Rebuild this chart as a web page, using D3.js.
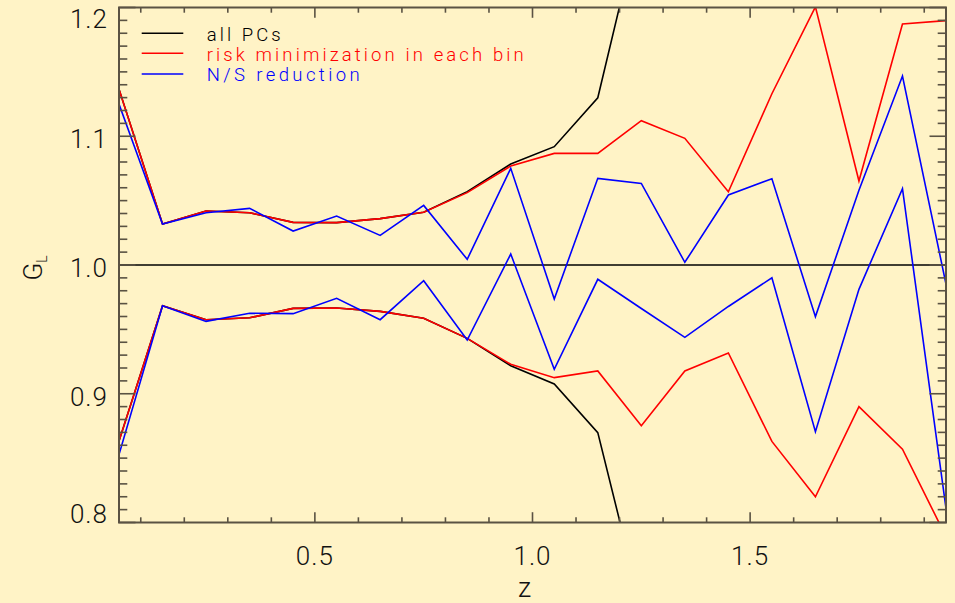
<!DOCTYPE html>
<html>
<head>
<meta charset="utf-8">
<script src="https://cdn.jsdelivr.net/npm/d3@7"></script>
<style>
  html, body { margin: 0; padding: 0; background: #fff3c6; }
  svg { display: block; }
  text { font-family: Roboto, "Liberation Sans", sans-serif; font-weight: 300; }
</style>
</head>
<body>
<svg id="chart" width="955" height="603"></svg>
<script>
// ---- data ----
const z = [0.05, 0.15, 0.25, 0.35, 0.45, 0.55, 0.65, 0.75, 0.85, 0.95,
           1.05, 1.15, 1.25, 1.35, 1.45, 1.55, 1.65, 1.75, 1.85, 1.95];

const allPCsUpper = [1.1365, 1.0318, 1.0419, 1.0406, 1.0331, 1.0329, 1.036, 1.041, 1.057, 1.0784,
                     1.0919, 1.1299, 1.2715];
const allPCsLower = [0.8633, 0.9684, 0.9575, 0.959, 0.9663, 0.9666, 0.964, 0.9586, 0.943, 0.9218,
                     0.9076, 0.8698, 0.7334];

const riskUpper = [1.1365, 1.0318, 1.0419, 1.0406, 1.0331, 1.0329, 1.036, 1.041, 1.0562, 1.0769,
                   1.0867, 1.0867, 1.1121, 1.0984, 1.0569, 1.133, 1.2005, 1.0652, 1.1872, 1.1898];
const riskLower = [0.8633, 0.9684, 0.9575, 0.959, 0.9663, 0.9666, 0.964, 0.9586, 0.943, 0.9229,
                   0.9125, 0.9177, 0.8752, 0.9177, 0.9317, 0.863, 0.82, 0.89, 0.8569, 0.789];

const nsUpper = [1.125, 1.0318, 1.0406, 1.044, 1.0264, 1.038, 1.023, 1.0463, 1.0044, 1.0751,
                 0.9736, 1.0673, 1.0634, 1.0021, 1.0544, 1.067, 0.9599, 1.058, 1.1468, 0.9852];
const nsLower = [0.8527, 0.9684, 0.9562, 0.9625, 0.9622, 0.9741, 0.9575, 0.9878, 0.9417, 1.0085,
                 0.919, 0.9889, 0.9662, 0.9438, 0.9678, 0.99, 0.8705, 0.9811, 1.0593, 0.811];

const legendLabels = ["all PCs", "risk minimization in each bin", "N/S reduction"];
const xTickLabels = ["0.5", "1.0", "1.5"];
const yTickLabels = ["0.8", "0.9", "1.0", "1.1", "1.2"];

// ---- layout ----
const svg = d3.select("#chart");
const L = 119, R = 946, T = 7.5, B = 522.5;
const axisColor = "#5a5243";
const x = d3.scaleLinear().domain([0.05, 1.95]).range([L, R]);
const y = d3.scaleLinear().domain([0.8, 1.2]).range([B, T]);

svg.append("rect").attr("width", 955).attr("height", 603).attr("fill", "#fff3c6");

svg.append("defs").append("clipPath").attr("id", "clip")
  .append("rect").attr("x", L).attr("y", T).attr("width", R - L).attr("height", B - T);

const plot = svg.append("g").attr("clip-path", "url(#clip)");

// reference line at 1.0
plot.append("line").attr("x1", L).attr("x2", R).attr("y1", y(1.0)).attr("y2", y(1.0))
  .attr("stroke", "#000").attr("stroke-width", 1.7);

const line = d3.line().x((d, i) => x(z[i])).y(d => y(d));
const series = [
  {vals: allPCsUpper, color: "#000000"}, {vals: allPCsLower, color: "#000000"},
  {vals: riskUpper, color: "#ff0000"}, {vals: riskLower, color: "#ff0000"},
  {vals: nsUpper, color: "#0000ff"}, {vals: nsLower, color: "#0000ff"}
];
series.forEach(s => {
  plot.append("path").attr("d", line(s.vals)).attr("fill", "none")
    .attr("stroke", s.color).attr("stroke-width", 1.6).attr("stroke-linejoin", "miter");
});

// ---- axes ----
const ax = svg.append("g").attr("stroke", axisColor);
ax.append("rect").attr("x", L).attr("y", T).attr("width", R - L).attr("height", B - T)
  .attr("fill", "none").attr("stroke-width", 2);

const xMinor = d3.range(1, 20).map(k => k / 10);
xMinor.forEach(v => {
  const major = Math.abs(v * 2 - Math.round(v * 2)) < 1e-6;
  const len = major ? 10.3 : 5.2;
  ax.append("line").attr("x1", x(v)).attr("x2", x(v)).attr("y1", B).attr("y2", B - len).attr("stroke-width", 1.6);
  ax.append("line").attr("x1", x(v)).attr("x2", x(v)).attr("y1", T).attr("y2", T + len).attr("stroke-width", 1.6);
});
const yMinor = d3.range(80, 121).map(k => k / 100);
yMinor.forEach((v, i) => {
  const major = (i % 10) === 0;
  const len = major ? 16.5 : 8.3;
  ax.append("line").attr("y1", y(v)).attr("y2", y(v)).attr("x1", L).attr("x2", L + len).attr("stroke-width", 1.6);
  ax.append("line").attr("y1", y(v)).attr("y2", y(v)).attr("x1", R).attr("x2", R - len).attr("stroke-width", 1.6);
});

// tick labels
svg.append("g").selectAll("text").data(xTickLabels).join("text")
  .attr("x", d => x(+d)).attr("y", 564.5).attr("text-anchor", "middle")
  .attr("font-size", 26).attr("fill", "#111").attr("letter-spacing", 1)
  .text(d => d);

svg.append("g").selectAll("text").data(yTickLabels).join("text")
  .attr("x", 108).attr("y", d => Math.min(Math.max(y(+d) + 2.5, 18.5), 513.5) + 9.3)
  .attr("text-anchor", "end").attr("font-size", 26).attr("fill", "#111").attr("letter-spacing", 1)
  .text(d => d);

// axis titles
svg.append("text").attr("x", 524.5).attr("y", 597).attr("text-anchor", "middle")
  .attr("font-size", 27).attr("fill", "#111").text("z");

const yt = svg.append("text").attr("transform", "translate(42,268) rotate(-90)")
  .attr("text-anchor", "middle").attr("fill", "#111");
yt.append("tspan").attr("font-size", 26).text("G");
yt.append("tspan").attr("font-size", 14).attr("dy", 5).text("L");

// legend
const legColors = ["#000000", "#ff0000", "#0000ff"];
const legY = [33.3, 53.3, 74];
const legW = [74, 317, 153];
legendLabels.forEach((lab, i) => {
  svg.append("line").attr("x1", 141.7).attr("x2", 183.3).attr("y1", legY[i]).attr("y2", legY[i])
    .attr("stroke", legColors[i]).attr("stroke-width", 1.6);
  svg.append("text").attr("x", 206.7).attr("y", legY[i] + 7.2)
    .attr("font-size", 18.5).attr("fill", legColors[i])
    .attr("textLength", legW[i]).attr("lengthAdjust", "spacing")
    .text(lab);
});
</script>
</body>
</html>
